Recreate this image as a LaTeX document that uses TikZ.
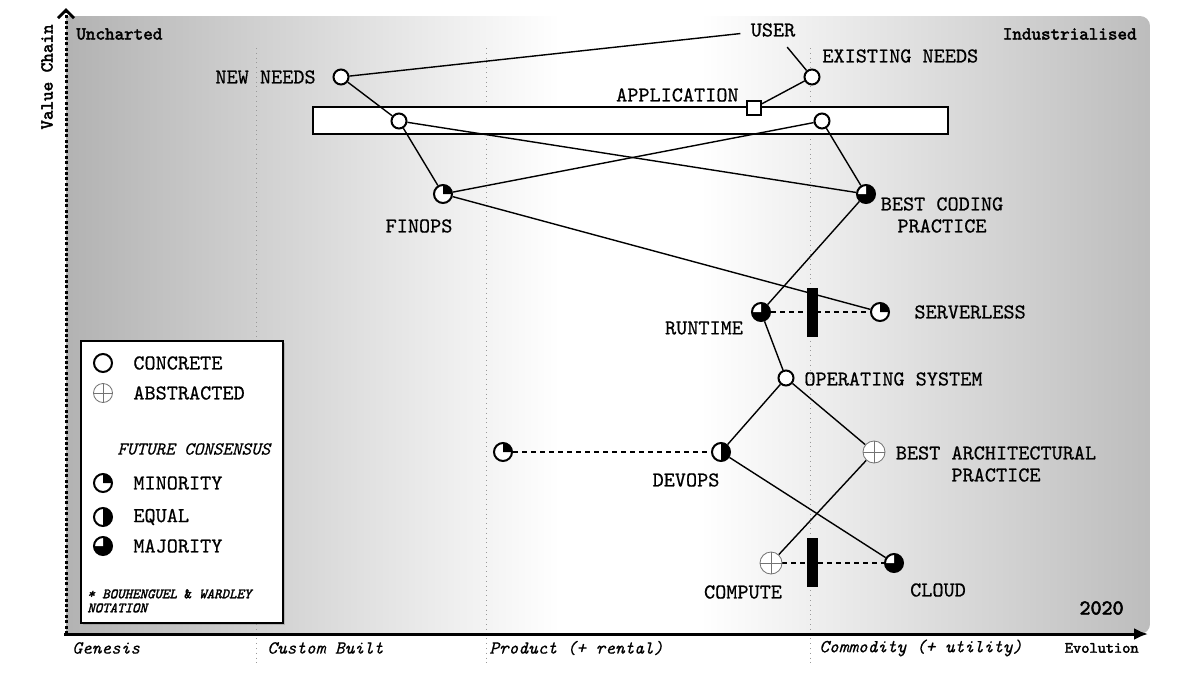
\documentclass[tikz,border=0pt]{standalone}
\usepackage{fontspec}
\newfontfamily\mapfont{lmmono10-regular.otf}[FakeBold=0.6]
\newfontfamily\heavyfont{lmmono10-regular.otf}[FakeBold=2.5]
\newfontfamily\slantfont{lmmono10-italic.otf}[FakeBold=0.4]
\newfontfamily\heavyslant{lmmono10-italic.otf}[FakeBold=2]
\usetikzlibrary{arrows.meta,positioning,shadows}
\pgfdeclarelayer{back}
\pgfdeclarelayer{links}
\pgfsetlayers{back,links,main}
\tikzset{
  lbl/.style={font=\mapfont\fontsize{10.6}{11}\selectfont, inner sep=1pt, align=center},
  hdr/.style={font=\heavyfont\fontsize{9.1}{10}\selectfont, inner sep=0pt},
  stagelbl/.style={font=\slantfont\fontsize{9.2}{10}\selectfont, inner sep=0pt, anchor=west},
  comp/.style={circle, draw, line width=1pt, fill=white, minimum size=7.5pt, inner sep=0pt},
  pie/.style={circle, draw, line width=1pt, fill=white, minimum size=9pt, inner sep=0pt},
  minority/.style={pie, path picture={\fill[black] (path picture bounding box.center) -- (path picture bounding box.east) arc[start angle=0, end angle=90, radius=4.5pt] -- cycle;}},
  equal/.style={pie, path picture={\fill[black] (path picture bounding box.north) arc[start angle=90, end angle=-90, radius=4.5pt] -- cycle;}},
  majority/.style={pie, fill=black, path picture={\fill[white] (path picture bounding box.center) -- (path picture bounding box.north) arc[start angle=90, end angle=180, radius=4.5pt] -- cycle;}},
  abstr/.style={circle, draw=black!55, line width=0.4pt, fill=white, minimum size=11pt, inner sep=0pt,
    path picture={\draw[black!55, line width=0.4pt] (path picture bounding box.north) -- (path picture bounding box.south) (path picture bounding box.west) -- (path picture bounding box.east);}},
  link/.style={line width=0.7pt},
  move/.style={line width=0.8pt, dash pattern=on 2.5pt off 2pt},
  inertia/.style={fill=black, minimum width=5.5pt, minimum height=24.5pt, inner sep=0pt},
  stagesep/.style={draw=black!40, line width=0.4pt, dotted}
}

\begin{document}
\begin{tikzpicture}[x=0.5pt, y=-0.5pt]
\useasboundingbox (0,0) rectangle (1200,675);
% backdrop, stage separators and the application bar
\begin{pgfonlayer}{back}
\begin{scope}
\clip[rounded corners=5pt] (40,16) rectangle (1150,634);
\shade[left color=black!30, right color=white] (66,16) rectangle (560,634);
\fill[white] (559,16) rectangle (701,634);
\shade[left color=white, right color=black!26] (700,16) rectangle (1150,634);
\end{scope}
\foreach \sx in {256,486,810} \draw[stagesep] (\sx,48) -- (\sx,665);
\draw[line width=0.75pt, fill=white] (313,107) rectangle (948,134);
\end{pgfonlayer}

% axes
\draw[line width=1.5pt, dash pattern=on 1.5pt off 1.2pt, -{Straight Barb[length=4pt, width=8pt]}] (66,634) -- (66,8);
\draw[line width=1.5pt, -{Latex[length=7pt, width=6pt]}] (64,634) -- (1148,634);
\node[hdr, rotate=90] (vchain) at (47,77) {Value Chain};
\node[hdr, anchor=west] (uncharted) at (76,34) {Uncharted};
\node[hdr, anchor=east] (industrial) at (1137,34) {Industrialised};
\node[font=\heavyfont\fontsize{7.8}{8}\selectfont, inner sep=0pt, anchor=east] (evolution) at (1139,648) {Evolution};
\node[font=\heavyfont\fontsize{10.5}{11}\selectfont, inner sep=0pt, anchor=east] (year) at (1124,608) {2020};
\node[stagelbl] (genesis) at (72,648) {Genesis};
\node[stagelbl] (custom) at (267,648) {Custom Built};
\node[stagelbl] (product) at (489,648) {Product (+ rental)};
\node[stagelbl] (commodity) at (819,648) {Commodity (+ utility)};

% components
\node[lbl, inner sep=5pt] (user) at (773,30) {USER};
\node[comp] (newneeds) at (341,77) {};
\node[lbl, anchor=east] (newneedsL) at (318,77) {NEW NEEDS};
\node[comp] (existing) at (812,77) {};
\node[lbl, anchor=west] (existingL) at (820,56) {EXISTING NEEDS};
\node[draw, fill=white, line width=1pt, minimum size=7pt, inner sep=0pt] (app) at (754,108) {};
\node[lbl, anchor=east] (appL) at (741,95) {APPLICATION};
\node[comp] (appleft) at (399,121) {};
\node[comp] (appright) at (822,121) {};
\node[minority] (finops) at (443,194) {};
\node[lbl] (finopsL) at (419,226) {FINOPS};
\node[majority] (coding) at (866,194) {};
\node[lbl] (codingL) at (942,215) {BEST CODING\\PRACTICE};
\node[majority] (runtime) at (761,312) {};
\node[lbl] (runtimeL) at (704,328) {RUNTIME};
\node[minority] (serverless) at (880,312) {};
\node[lbl, anchor=west] (serverlessL) at (912,312) {SERVERLESS};
\node[inertia] (inertiaA) at (812,312) {};
\node[comp] (os) at (786,378) {};
\node[lbl, anchor=west] (osL) at (802,379) {OPERATING SYSTEM};
\node[minority] (devopsold) at (503,452) {};
\node[equal] (devops) at (721,452) {};
\node[lbl] (devopsL) at (686,480) {DEVOPS};
\node[abstr] (archi) at (874,452) {};
\node[lbl] (archiL) at (996,464) {BEST ARCHITECTURAL\\PRACTICE};
\node[abstr] (compute) at (771,563) {};
\node[lbl] (computeL) at (743,592) {COMPUTE};
\node[majority] (cloud) at (894,563) {};
\node[lbl] (cloudL) at (938,590) {CLOUD};
\node[inertia] (inertiaB) at (812,562) {};

% links
\begin{pgfonlayer}{links}
\draw[link] (newneeds) -- (user);
\draw[link] (existing) -- (user);
\draw[link] (existing) -- (app);
\draw[link] (newneeds) -- (appleft);
\draw[link] (appleft) -- (finops);
\draw[link] (appleft) -- (coding);
\draw[link] (appright) -- (finops);
\draw[link] (appright) -- (coding);
\draw[link] (finops) -- (serverless);
\draw[link] (coding) -- (runtime);
\draw[link] (runtime) -- (os);
\draw[link] (os) -- (devops);
\draw[link] (os) -- (archi);
\draw[link] (devops) -- (cloud);
\draw[link] (archi) -- (compute);
\draw[move] (runtime) -- (serverless);
\draw[move] (devopsold) -- (devops);
\draw[move] (compute) -- (cloud);
\end{pgfonlayer}

% legend
\node[draw, line width=1pt, fill=white, drop shadow={shadow xshift=1pt, shadow yshift=-1pt, opacity=0.4},
  minimum width=101pt, minimum height=141pt, inner sep=0pt, anchor=north west] (legend) at (80,340) {};
\node[comp, minimum size=9pt] (keyconcrete) at (103,363) {};
\node[lbl, anchor=west] (keyconcreteL) at (131,363) {CONCRETE};
\node[abstr, minimum size=9.5pt] (keyabstr) at (103,393) {};
\node[lbl, anchor=west] (keyabstrL) at (131,393) {ABSTRACTED};
\node[font=\slantfont\fontsize{9.1}{10}\selectfont, inner sep=0pt, anchor=west] (keyfuture) at (117,449) {FUTURE CONSENSUS};
\node[minority] (keyminority) at (103,483) {};
\node[lbl, anchor=west] (keyminorityL) at (131,483) {MINORITY};
\node[equal] (keyequal) at (103,517) {};
\node[lbl, anchor=west] (keyequalL) at (131,517) {EQUAL};
\node[majority] (keymajority) at (103,546) {};
\node[lbl, anchor=west] (keymajorityL) at (131,546) {MAJORITY};
\node[font=\heavyslant\fontsize{7.1}{7}\selectfont, inner sep=0pt, anchor=north west, align=left] (keynote) at (87,589) {* BOUHENGUEL {\heavyfont\&} WARDLEY\\NOTATION};
\end{tikzpicture}
\end{document}
